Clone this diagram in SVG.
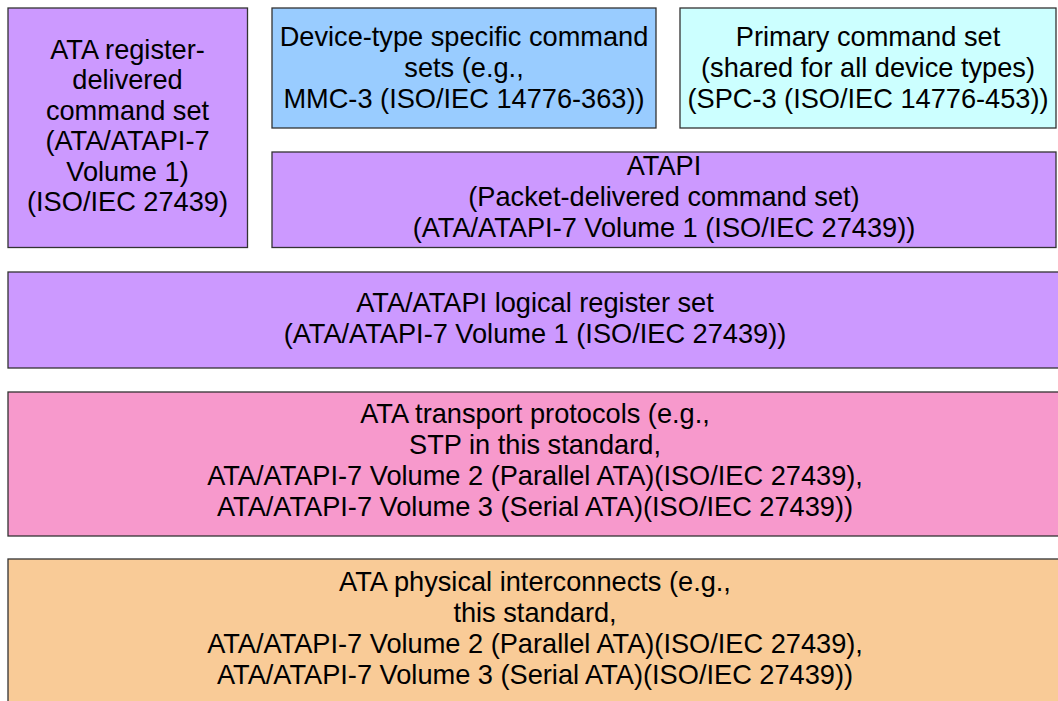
<svg xmlns="http://www.w3.org/2000/svg" width="1058" height="701" viewBox="0 0 1058 701">
<style>
rect{stroke:#333;stroke-width:1.3}
.p{fill:#CC99FF}.b{fill:#99CCFF}.c{fill:#CCFFFF}.k{fill:#F799CC}.o{fill:#F9CB97}
text{font-family:"Liberation Sans",Arial,sans-serif;font-size:27.2px;fill:#000;text-anchor:middle}
</style>
<rect width="1058" height="701" fill="#fff" style="stroke:none"/>
<g id="ata-register">
<rect class="p" x="8" y="8" width="239.5" height="239.5"/>
<text x="127.5" y="58.5">ATA register-</text>
<text x="127.5" y="89">delivered</text>
<text x="127.5" y="119.5">command set</text>
<text x="127.5" y="150">(ATA/ATAPI-7</text>
<text x="127.5" y="180.5">Volume 1)</text>
<text x="127.5" y="211">(ISO/IEC 27439)</text>
</g>
<g id="device-type">
<rect class="b" x="272" y="8" width="384" height="120"/>
<text x="464" y="45.5">Device-type specific command</text>
<text x="464" y="76.5">sets (e.g.,</text>
<text x="464" y="107.5">MMC-3 (ISO/IEC 14776-363))</text>
</g>
<g id="primary">
<rect class="c" x="680" y="8" width="376" height="120"/>
<text x="868" y="45.5">Primary command set</text>
<text x="868" y="76.5">(shared for all device types)</text>
<text x="868" y="107.5">(SPC-3 (ISO/IEC 14776-453))</text>
</g>
<g id="atapi">
<rect class="p" x="272" y="152" width="784" height="95.5"/>
<text x="664" y="174.5">ATAPI</text>
<text x="664" y="205.5">(Packet-delivered command set)</text>
<text x="664" y="236.5">(ATA/ATAPI-7 Volume 1 (ISO/IEC 27439))</text>
</g>
<g id="logical-register">
<rect class="p" x="8" y="272" width="1060" height="96"/>
<text x="535" y="311.5">ATA/ATAPI logical register set</text>
<text x="535" y="342.5">(ATA/ATAPI-7 Volume 1 (ISO/IEC 27439))</text>
</g>
<g id="transport">
<rect class="k" x="8" y="392" width="1060" height="144"/>
<text x="535" y="422.5">ATA transport protocols (e.g.,</text>
<text x="535" y="453.5">STP in this standard,</text>
<text x="535" y="484.5">ATA/ATAPI-7 Volume 2 (Parallel ATA)(ISO/IEC 27439),</text>
<text x="535" y="515.5">ATA/ATAPI-7 Volume 3 (Serial ATA)(ISO/IEC 27439))</text>
</g>
<g id="physical">
<rect class="o" x="8" y="559" width="1060" height="160"/>
<text x="535" y="590.5">ATA physical interconnects (e.g.,</text>
<text x="535" y="621.5">this standard,</text>
<text x="535" y="652.5">ATA/ATAPI-7 Volume 2 (Parallel ATA)(ISO/IEC 27439),</text>
<text x="535" y="683.5">ATA/ATAPI-7 Volume 3 (Serial ATA)(ISO/IEC 27439))</text>
</g>
<g id="connectors"></g>
</svg>
